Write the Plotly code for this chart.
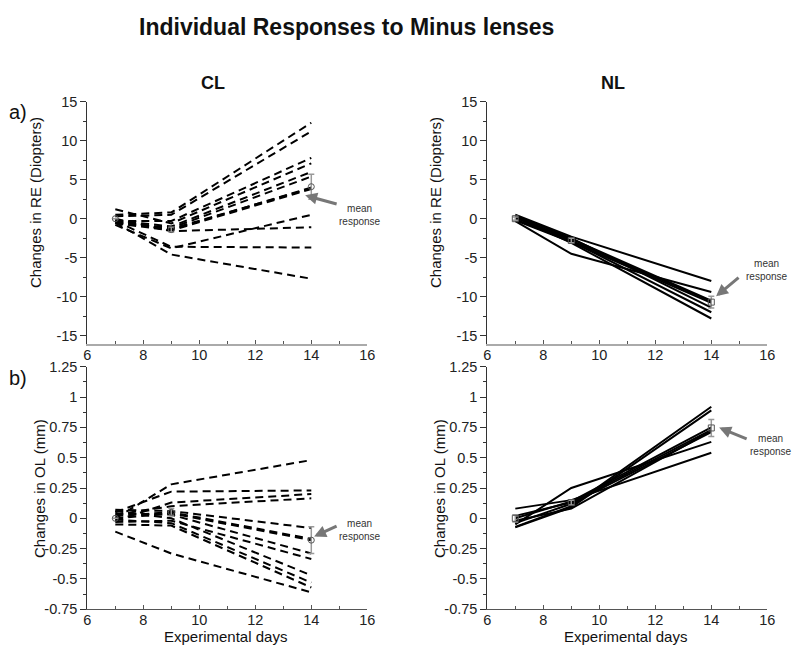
import plotly.graph_objects as go

# ---------------- data ----------------
days = [7, 9, 14]

# CL, refractive error (D): each row = one animal at days 7, 9, 14
cl_re = [
    [0.5, 0.8, 12.3],
    [0.3, 0.5, 11.2],
    [-0.3, -0.3, 7.8],
    [1.2, -0.6, 7.1],
    [-0.2, -1.0, 6.0],
    [-0.4, -1.2, 5.4],
    [-0.5, -1.4, 4.0],
    [-0.6, -1.5, 3.8],
    [-0.4, -1.3, 3.9],
    [0.0, -1.6, -1.1],
    [-0.8, -3.8, 0.5],
    [-0.3, -3.6, -3.7],
    [-0.5, -4.6, -7.7],
]
cl_re_mean = [0.0, -1.4, 4.1]
cl_re_err = [0.0, 0.3, 1.6]

# NL, refractive error (D)
nl_re = [
    [0.5, -2.3, -8.0],
    [-0.3, -4.5, -9.4],
    [0.3, -2.8, -10.6],
    [-0.2, -3.0, -10.8],
    [0.1, -2.6, -10.5],
    [0.4, -2.5, -11.4],
    [-0.1, -2.9, -12.0],
    [0.2, -3.1, -12.8],
]
nl_re_mean = [0.0, -2.8, -10.7]
nl_re_err = [0.2, 0.3, 0.75]

# CL, ocular length (mm)
cl_ol = [
    [0.0, 0.28, 0.48],
    [0.05, 0.22, 0.23],
    [-0.02, 0.13, 0.20],
    [0.03, 0.10, 0.165],
    [0.07, 0.06, -0.08],
    [0.02, 0.05, -0.17],
    [0.0, 0.04, -0.18],
    [0.04, 0.03, -0.29],
    [-0.03, -0.02, -0.335],
    [0.06, 0.0, -0.47],
    [-0.01, -0.04, -0.53],
    [-0.05, -0.06, -0.57],
    [-0.11, -0.29, -0.61],
]
cl_ol_mean = [0.0, 0.05, -0.18]
cl_ol_err = [0.0, 0.03, 0.11]

# NL, ocular length (mm)
nl_ol = [
    [-0.07, 0.10, 0.92],
    [-0.075, 0.09, 0.89],
    [0.0, 0.14, 0.75],
    [0.02, 0.13, 0.73],
    [-0.04, 0.12, 0.71],
    [-0.05, 0.25, 0.63],
    [0.08, 0.15, 0.54],
    [-0.02, 0.08, 0.72],
]
nl_ol_mean = [0.0, 0.13, 0.745]
nl_ol_err = [0.03, 0.02, 0.07]

# tick labels
re_ticks = [15, 10, 5, 0, -5, -10, -15]
re_ticklabels = ["15", "10", "5", "0", "-5", "-10", "-15"]
ol_ticks = [1.25, 1, 0.75, 0.5, 0.25, 0, -0.25, -0.5, -0.75]
ol_ticklabels = ["1.25", "1", "0.75", "0.5", "0.25", "0", "-0.25", "-0.5", "-0.75"]

# ---------------- figure ----------------
# the page body has an 8px margin, so the figure is 792x642 and positions
# measured on the 800x650 picture are shifted by 8px
OFF = 8
W, H = 800 - OFF, 650 - OFF
fig = go.Figure()

def px2x(p):
    return (p - OFF) / W

def px2y(p):
    return 1 - (p - OFF) / H

panels = [
    (cl_re, cl_re_mean, cl_re_err, "x", "y", "8px,5px", "circle-open"),
    (nl_re, nl_re_mean, nl_re_err, "x2", "y2", "solid", "square-open"),
    (cl_ol, cl_ol_mean, cl_ol_err, "x3", "y3", "8px,5px", "circle-open"),
    (nl_ol, nl_ol_mean, nl_ol_err, "x4", "y4", "solid", "square-open"),
]

for rows, mean, err, xa, ya, dash, sym in panels:
    for r in rows:
        fig.add_trace(go.Scatter(
            x=days, y=r, mode="lines", xaxis=xa, yaxis=ya,
            line=dict(color="black", width=2, dash=dash),
            showlegend=False, hoverinfo="skip"))
    fig.add_trace(go.Scatter(
        x=days, y=mean, mode="markers", xaxis=xa, yaxis=ya,
        marker=dict(symbol=sym, size=6, color="#555", line=dict(width=1, color="#555")),
        error_y=dict(type="data", array=err, color="#999", thickness=1.5, width=3),
        showlegend=False))

# axes
xl = [px2x(87.3), px2x(367.3)]
xr = [px2x(487.3), px2x(767.3)]
top_dom = [px2y(344), px2y(101.7)]
bot_dom = [px2y(609.3), px2y(366.7)]
FONT = "Liberation Sans, Arial, sans-serif"
tickfont = dict(family=FONT, size=14.5, color="#222")

def xax(dom, anchor, top):
    return dict(domain=dom, anchor=anchor, range=[6, 16], tick0=6, dtick=2,
                automargin=False, ticklabelstandoff=-3,
                showline=True, linecolor="#aaa" if top else "#555",
                linewidth=2 if top else 1,
                ticks="inside", ticklen=4, tickcolor="#555", tickwidth=1,
                minor=dict(dtick=1, ticks="inside", ticklen=3, tickcolor="#555"),
                showgrid=False, zeroline=False, tickfont=tickfont)

def yax(dom, anchor, rng, tv, tt, mdt):
    return dict(domain=dom, anchor=anchor, range=rng,
                tickmode="array", tickvals=tv, ticktext=tt,
                automargin=False,
                showline=True, linecolor="#333", linewidth=1,
                ticks="outside", ticklen=6, tickcolor="#333", tickwidth=1,
                minor=dict(dtick=mdt, tick0=0, ticks="outside", ticklen=3, tickcolor="#333"),
                showgrid=False, zeroline=False, tickfont=tickfont)

re_range = [-16.07, 15]
ol_range = [-0.75, 1.25]

fig.update_layout(
    width=W, height=H, margin=dict(l=0, r=0, t=0, b=0, autoexpand=False),
    paper_bgcolor="white", plot_bgcolor="white",
    xaxis=xax(xl, "y", True),
    yaxis=yax(top_dom, "x", re_range, re_ticks, re_ticklabels, 2.5),
    xaxis2=xax(xr, "y2", True),
    yaxis2=yax(top_dom, "x2", re_range, re_ticks, re_ticklabels, 2.5),
    xaxis3=xax(xl, "y3", False),
    yaxis3=yax(bot_dom, "x3", ol_range, ol_ticks, ol_ticklabels, 0.125),
    xaxis4=xax(xr, "y4", False),
    yaxis4=yax(bot_dom, "x4", ol_range, ol_ticks, ol_ticklabels, 0.125),
)

anns = []
def txt(text, x, y, size, bold=False, angle=0, family=FONT, color="#111"):
    anns.append(dict(text=f"<b>{text}</b>" if bold else text, x=px2x(x), y=px2y(y),
                     xref="paper", yref="paper", showarrow=False, textangle=angle,
                     xanchor="center", yanchor="middle",
                     font=dict(size=size, family=family, color=color)))

txt("Individual Responses to Minus lenses", 346, 27, 23, bold=True)
txt("CL", 213, 83, 18, bold=True)
txt("NL", 613, 83, 18, bold=True)
txt("a)", 18, 112, 20)
txt("b)", 18, 378, 20)
txt("Changes in RE (Diopters)", 35, 203, 15, angle=-90)
txt("Changes in RE (Diopters)", 435, 203, 15, angle=-90)
txt("Changes in OL (mm)", 39, 489, 15, angle=-90)
txt("Changes in OL (mm)", 439, 489, 15, angle=-90)
txt("Experimental days", 225, 636, 15)
txt("Experimental days", 625, 636, 15)
txt("mean<br>response", 360, 215, 10, color="#333")
txt("mean<br>response", 767, 270, 10, color="#333")
txt("mean<br>response", 360, 530, 10, color="#333")
txt("mean<br>response", 771, 445, 10, color="#333")

arrows = [
    ("x", "y", 13.78, 2.99, 33, 9),
    ("x2", "y2", 14.17, -9.96, 24, -20),
    ("x3", "y3", 14.1, -0.15, 24, -11),
    ("x4", "y4", 14.28, 0.748, 29, 12),
]
for xr_, yr_, hx, hy, ax, ay in arrows:
    anns.append(dict(x=hx, y=hy, xref=xr_, yref=yr_, text="", showarrow=True,
                     ax=ax, ay=ay, arrowcolor="#777", arrowwidth=3, arrowhead=2,
                     arrowsize=0.8))

fig.update_layout(annotations=anns)
fig.write_html("out.html")
